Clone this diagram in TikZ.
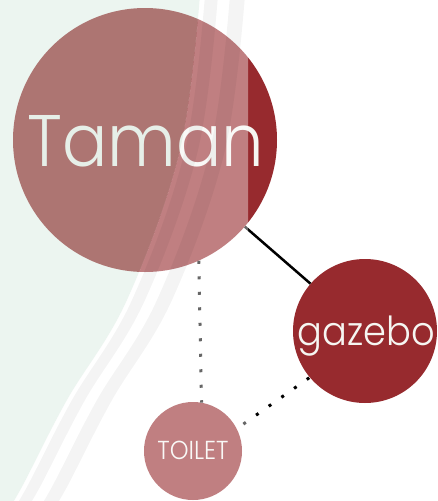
\documentclass[tikz,border=0pt]{standalone}
\usepackage{fontspec}
\newfontfamily\popl[FakeStretch=0.92]{Poppins Light}
\definecolor{dred}{HTML}{972A2E}
\definecolor{wmgreen}{HTML}{D0E6DA}
\definecolor{txtc}{HTML}{F6F6F2}
\begin{document}
\begin{tikzpicture}[x=1pt,y=-1pt,
  bubble/.style={circle, fill=dred, inner sep=0pt, text=txtc},
  txtlbl/.style={text=txtc, inner sep=0pt},
  dotline/.style={line width=3pt, dash pattern=on 3pt off 12.5pt},
  solidline/.style={line width=2.5pt, black}]
\useasboundingbox (0,0) rectangle (438,501);
\fill[white] (0,0) rectangle (438,501);
% circles
\node[bubble, minimum size=264pt] (taman) at (145,140) {};
\node[bubble, minimum size=144pt] (gazebo) at (365,331) {};
\node[bubble, minimum size=98pt] (toilet) at (193,451) {};
% texts
\node[txtlbl, anchor=base] (tamantxt) at (146,166) {\popl\fontsize{73}{73}\selectfont Taman};
\node[txtlbl, anchor=base] (gazebotxt) at (366,345) {\popl\fontsize{40}{40}\selectfont gazebo};
\node[txtlbl, anchor=base] (toilettxt) at (193,459) {\popl\fontsize{26}{26}\selectfont TOILET};
% connectors
\draw[solidline] (taman) -- (gazebo);
\draw[dotline, black] (taman.-66) -- (toilet.80);
\draw[dotline, black, shorten <=8pt] (toilet.27) -- (gazebo.220);
% watermark overlay
\begin{scope}
\clip (0,-5) rectangle (248,510);
\fill[wmgreen, fill opacity=0.4] (0,-5) -- plot[smooth,tension=0.6] coordinates {(200,-5) (180,150) (127,300) (67,400) (23,485) (8,510)} -- (0,510) -- cycle;
\fill[white, fill opacity=0.4] (248,-5) -- plot[smooth,tension=0.6] coordinates {(200,-5) (180,150) (127,300) (67,400) (23,485) (8,510)} -- (248,510) -- cycle;
\fill[black, fill opacity=0.045] (205,-5) -- plot[smooth,tension=0.6] coordinates {(205,-5) (185,150) (132,300) (72,400) (28,485) (13,510)} -- plot[smooth,tension=0.6] coordinates {(26,510) (41,485) (85,400) (145,300) (198,150) (218,-5)} -- cycle;
\fill[black, fill opacity=0.045] (230,-5) -- plot[smooth,tension=0.6] coordinates {(230,-5) (210,150) (157,300) (97,400) (53,485) (38,510)} -- plot[smooth,tension=0.6] coordinates {(53,510) (68,485) (112,400) (172,300) (225,150) (245,-5)} -- cycle;
\end{scope}
\end{tikzpicture}
\end{document}
